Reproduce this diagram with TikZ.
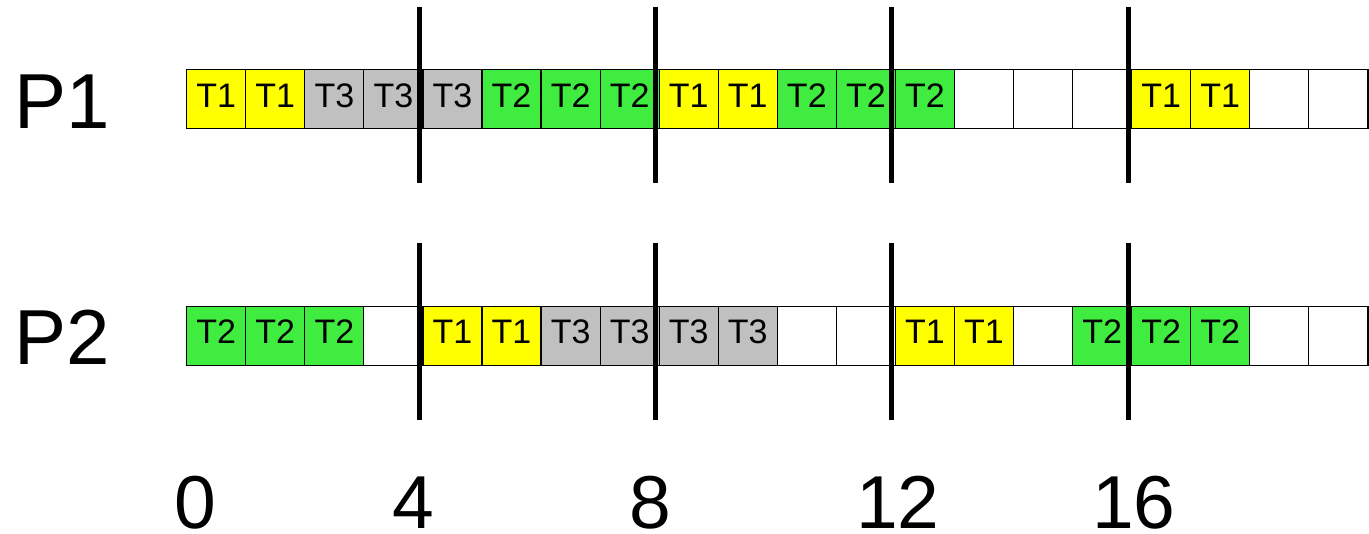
\documentclass[tikz,border=0pt]{standalone}
\usepackage{fontspec}
\setmainfont{Liberation Sans}
\definecolor{yel}{HTML}{FFFF00}
\definecolor{gry}{HTML}{C0C0C0}
\definecolor{grn}{HTML}{40EC40}
\definecolor{emp}{HTML}{FFFFFF}
\begin{document}
\begin{tikzpicture}[x=1pt,y=-1pt,
  cell/.style={draw=black, line width=1.2pt, minimum width=59.06pt, minimum height=59.3pt,
    inner sep=0pt, text height=24pt, text depth=8pt, font=\fontsize{34}{40}\selectfont},
  vline/.style={line width=5pt, black},
  biglabel/.style={inner sep=0pt, font=\fontsize{78}{90}\selectfont},
  numlabel/.style={inner sep=0pt, anchor=base, font=\fontsize{75}{90}\selectfont}]
\useasboundingbox (0,0) rectangle (1369,534);
% P1 row
\foreach \t/\c [count=\n] in {T1/yel,T1/yel,T3/gry,T3/gry,T3/gry,T2/grn,T2/grn,T2/grn,T1/yel,T1/yel,T2/grn,T2/grn,T2/grn,/emp,/emp,/emp,T1/yel,T1/yel,/emp,/emp}
  \node[cell, fill=\c] (pa\n) at ({216.23+(\n-1)*59.06}, 99.25) {\t};
% P2 row
\foreach \t/\c [count=\n] in {T2/grn,T2/grn,T2/grn,/emp,T1/yel,T1/yel,T3/gry,T3/gry,T3/gry,T3/gry,/emp,/emp,T1/yel,T1/yel,/emp,T2/grn,T2/grn,T2/grn,/emp,/emp}
  \node[cell, fill=\c] (pb\n) at ({216.23+(\n-1)*59.06}, 335.8) {\t};
% period lines
\foreach \x [count=\k] in {419,655.5,891.7,1128.3}{
  \coordinate (ta\k) at (\x,7);
  \coordinate (ba\k) at (\x,183);
  \coordinate (tb\k) at (\x,243);
  \coordinate (bb\k) at (\x,420);
  \draw[vline] (ta\k) -- (ba\k);
  \draw[vline] (tb\k) -- (bb\k);
}
% processor labels
\node[biglabel, anchor=base west] (lp1) at (14,129) {P1};
\node[biglabel, anchor=base west] (lp2) at (14,365) {P2};
% time labels
\node[numlabel] (n0) at (195,529) {0};
\node[numlabel] (n4) at (413,529) {4};
\node[numlabel] (n8) at (650,529) {8};
\node[numlabel] (n12) at (898,529) {12};
\node[numlabel] (n16) at (1134,529) {16};
\end{tikzpicture}
\end{document}
